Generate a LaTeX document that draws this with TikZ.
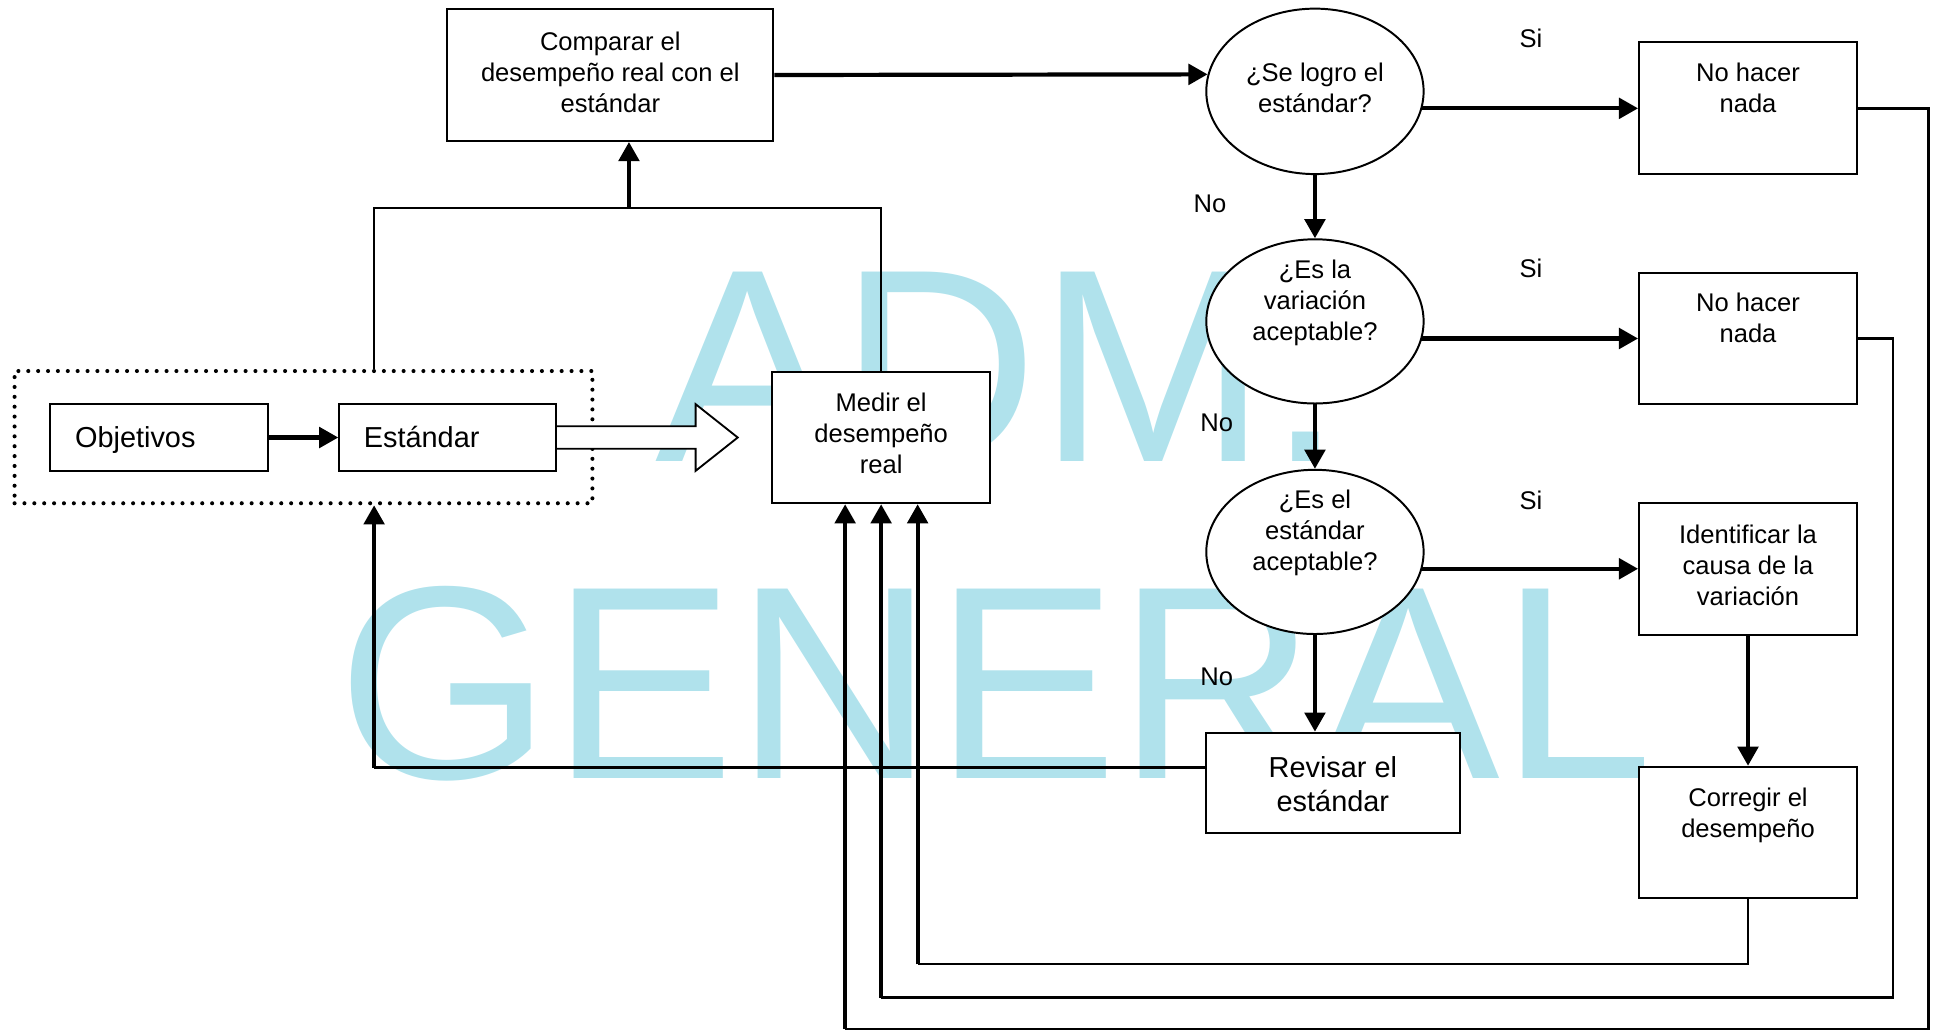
\documentclass[tikz,border=0pt]{standalone}
\usepackage{fontspec}
\setmainfont{Liberation Sans}
\usetikzlibrary{arrows.meta,shapes.geometric,calc}
\definecolor{wmblue}{RGB}{176,226,236}
\pgfdeclarelayer{wmlayer}
\pgfdeclarelayer{linelayer}
\pgfsetlayers{wmlayer,linelayer,main}
\begin{document}
\begin{tikzpicture}[x=1pt,y=-1pt,
  box/.style={draw, line width=1.6pt, fill=white, inner sep=0pt, rectangle},
  dec/.style={draw, line width=1.6pt, fill=white, inner sep=0pt, ellipse, minimum width=176pt},
  txt/.style={inner sep=0pt, align=center, font=\fontsize{20.7}{25}\selectfont},
  bigtxt/.style={inner sep=0pt, align=center, font=\fontsize{23.4}{28}\selectfont},
  lbl/.style={inner sep=0pt, font=\fontsize{20.7}{25}\selectfont},
  wm/.style={anchor=base west, inner sep=0pt, text=wmblue, font=\fontsize{223}{223}\selectfont},
  thinln/.style={line width=1.9pt},
  arr/.style={line width=3.4pt, -{Triangle[length=15.5pt,width=16.5pt]}},
  hollow/.style={line width=1.5pt, fill=white, line join=miter},
  dotbox/.style={draw, line width=3.3pt, dash pattern=on 0pt off 8pt, line cap=round, inner sep=0pt, rectangle}
]
\useasboundingbox (0,0) rectangle (1568,834);

% watermark
\begin{pgfonlayer}{wmlayer}
\node[wm] (wm1) at (531,374) {ADM.};
\node[wm] (wm2) at (273.3,630.4) {GENERAL};
\end{pgfonlayer}

% group and left boxes
\node[dotbox, minimum width=468pt, minimum height=107.1pt] (grp) at (245.8,354.05) {};
\coordinate (estE) at (450.3,354.35);
\draw[hollow] ($(estE)+(0.8,-9.1)$) -- ++(112.3,0) -- ++(0,-17.9) -- ++(34.1,27) -- ++(-34.1,27) -- ++(0,-17.9) -- ($(estE)+(0.8,9.1)$);
\node[box, minimum width=176.3pt, minimum height=53.7pt] (obj) at (128.55,354.35) {};
\node[box, minimum width=175.5pt, minimum height=53.7pt] (est) at (362.55,354.35) {};
\node[bigtxt, anchor=west] (tobj) at (60.6,356.3) {Objetivos};
\node[bigtxt, anchor=west] (test) at (294.5,354.2) {Estándar};

% comparar and medir
\node[box, minimum width=264pt, minimum height=106.9pt] (comp) at (494.3,60.75) {};
\node[txt] (tcomp) at (494.3,58.7) {Comparar el\\desempeño real con el\\estándar};
\node[box, minimum width=176.3pt, minimum height=106.6pt] (medir) at (713.65,354.3) {};
\node[txt] (tmedir) at (713.65,351) {Medir el\\desempeño\\real};

% decisions
\node[dec, minimum height=134pt] (e1) at (1065,74) {};
\node[txt] (te1) at (1065,71.5) {¿Se logro el\\estándar?};
\node[dec, minimum height=133pt] (e2) at (1065,260.3) {};
\node[txt] (te2) at (1065,245.2) {¿Es la\\variación\\aceptable?};
\node[dec, minimum height=133pt] (e3) at (1065,447) {};
\node[txt] (te3) at (1065,431.7) {¿Es el\\estándar\\aceptable?};

% right boxes
\node[box, minimum width=176.5pt, minimum height=106.9pt] (nhn1) at (1415.75,87.75) {};
\node[txt] (tn1) at (1415.75,71.2) {No hacer\\nada};
\node[box, minimum width=176.5pt, minimum height=106.7pt] (nhn2) at (1415.75,274.15) {};
\node[txt] (tn2) at (1415.75,257.5) {No hacer\\nada};
\node[box, minimum width=176.5pt, minimum height=107.3pt] (ident) at (1415.75,460.65) {};
\node[txt] (tid) at (1415.75,457.6) {Identificar la\\causa de la\\variación};
\node[box, minimum width=176.5pt, minimum height=106.5pt] (corr) at (1415.75,674.25) {};
\node[txt] (tco) at (1415.75,660.4) {Corregir el\\desempeño};
\node[box, minimum width=206pt, minimum height=81pt] (rev) at (1079.5,633.9) {};
\node[bigtxt] (trev) at (1079.5,635) {Revisar el\\estándar};

% labels
\node[lbl] (si1) at (1240,31) {Si};
\node[lbl] (si2) at (1240,217.3) {Si};
\node[lbl] (si3) at (1240,405) {Si};
\node[lbl] (no1) at (980,164.7) {No};
\node[lbl] (no2) at (985.5,342.5) {No};
\node[lbl] (no3) at (985.4,548) {No};

% connectors
\begin{pgfonlayer}{linelayer}
\draw[arr] (obj.east) -- (est.west);
\draw[arr] (comp.east) -- (e1.171);
\draw[arr] (e1.center |- nhn1.west) -- (nhn1.west);
\draw[arr] (e1.south) -- (e2.north);
\draw[arr] (e2.center |- nhn2.west) -- (nhn2.west);
\draw[arr] (e2.south) -- (e3.north);
\draw[arr] (e3.center |- ident.west) -- (ident.west);
\draw[arr] (e3.south) -- (e3.south |- rev.north);
\draw[arr] (ident.south) -- (corr.north);
% top junction
\coordinate (kL) at (303,168.7);
\coordinate (kC) at (509.4,168.7);
\draw[thinln] (kL |- grp.north) -- (kL) -- (kL -| medir.north) -- (medir.north);
\draw[arr] (kC) -- (kC |- comp.south);
% revisar back to the standard
\coordinate (kR) at (303,621.7);
\draw[thinln] (rev.center |- kR) -- (kR);
\draw[arr] (kR) -- (kR |- grp.south);
% feedback loops to medir
\coordinate (b1) at (1562,833.5);
\coordinate (a1) at (684.5,833.5);
\draw[thinln] (nhn1.east) -| (b1) -- (a1);
\draw[arr] (a1) -- (a1 |- medir.south);
\coordinate (b2) at (1533,808);
\coordinate (a2) at (713.65,808);
\draw[thinln] (nhn2.east) -| (b2) -- (a2);
\draw[arr] (a2) -- (a2 |- medir.south);
\coordinate (a3) at (743.2,781);
\draw[thinln] (corr.south) |- (a3);
\draw[arr] (a3) -- (a3 |- medir.south);
\end{pgfonlayer}
\end{tikzpicture}
\end{document}
